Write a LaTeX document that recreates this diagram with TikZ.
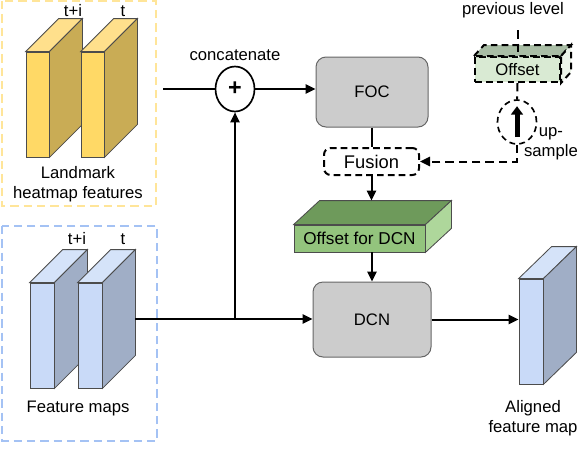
\documentclass[tikz,border=0pt]{standalone}
\usepackage{fontspec}
\setmainfont{Liberation Sans}
\usetikzlibrary{arrows.meta,shapes.geometric,positioning}

\newcommand{\px}{0.6pt}
\definecolor{hmfront}{HTML}{FFD966}
\definecolor{hmtop}{HTML}{FFE08C}
\definecolor{hmside}{HTML}{C9AC55}
\definecolor{hmline}{HTML}{FFE599}
\definecolor{fmfront}{HTML}{C9DAF8}
\definecolor{fmtop}{HTML}{D5E3F9}
\definecolor{fmside}{HTML}{A0AEC6}
\definecolor{fmline}{HTML}{A4C2F4}
\definecolor{offfront}{HTML}{93C47D}
\definecolor{offtop}{HTML}{6E9A5B}
\definecolor{offside}{HTML}{AED79B}
\definecolor{pofffront}{HTML}{D9EAD3}
\definecolor{pofftop}{HTML}{A9BDA5}
\definecolor{poffside}{HTML}{ECF4E9}
\definecolor{procgray}{HTML}{CCCCCC}

% top and side face of a slab whose front face is node #2
\newcommand{\slabfaces}[6][]{%
  \filldraw[face,#1,fill=#3] (#2.north west) -- ([shift={(#5,#6)}]#2.north west)
    -- ([shift={(#5,#6)}]#2.north east) -- (#2.north east) -- cycle;
  \filldraw[face,#1,fill=#4] (#2.north east) -- ([shift={(#5,#6)}]#2.north east)
    -- ([shift={(#5,#6)}]#2.south east) -- (#2.south east) -- cycle;}

\tikzset{
  face/.style={draw=black!70, line width=0.5pt},
  front/.style={face, inner sep=0pt, minimum width=24*\px, minimum height=105*\px},
  procbox/.style={draw=black!60, fill=procgray, line width=0.6pt, rounded corners=6pt},
  groupbox/.style={line width=1.5pt, dash pattern=on 5pt off 3pt},
  plain/.style={line width=1.2pt},
  conn/.style={line width=1.2pt, -{Triangle[length=6pt,width=5.5pt]}},
  dashconn/.style={line width=1.2pt, dash pattern=on 5pt off 3pt},
}

\begin{document}
\begin{tikzpicture}[x=\px, y=-\px]
  \useasboundingbox (0,0) rectangle (581,448);

  \draw[groupbox, draw=hmline] (2,1) rectangle (156,206);
  \node[front, fill=hmfront, minimum width=23*\px] (hm1) at (37.5,104.5) {};
  \slabfaces{hm1}{hmtop}{hmside}{33}{-33}
  \node[front, fill=hmfront, minimum width=23*\px] (hm2) at (92.5,104.5) {};
  \slabfaces{hm2}{hmtop}{hmside}{33}{-33}
  \node (hm1lab) at (73,11) {t+i};
  \node (hm2lab) at (123,11) {t};
  \node[align=center] (hmlab) at (78,184) {Landmark\\heatmap features};

  \draw[groupbox, draw=fmline] (2,226) rectangle (157,441);
  \node[front, fill=fmfront] (fm1) at (42,335.5) {};
  \slabfaces{fm1}{fmtop}{fmside}{33}{-33}
  \node[front, fill=fmfront] (fm2) at (90,335.5) {};
  \slabfaces{fm2}{fmtop}{fmside}{33}{-33}
  \node (fm1lab) at (77,239) {t+i};
  \node (fm2lab) at (123,239) {t};
  \node (fmlab) at (78,408) {Feature maps};

  \node[ellipse, draw, line width=1pt, minimum width=39*\px, minimum height=45*\px, inner sep=0pt] (cat) at (235,89)
    {\fontsize{14}{14}\selectfont\textbf{+}};
  \node (catlab) at (235,55) {concatenate};
  \node[procbox, minimum width=112*\px, minimum height=70*\px] (foc) at (372,92) {FOC};
  \node[draw, line width=1.2pt, dash pattern=on 4pt off 2.5pt, rounded corners=4pt,
    minimum width=95*\px, minimum height=27*\px, font=\fontsize{11}{13}\selectfont] (fusion) at (371.5,161.5) {Fusion};

  \node[face, fill=offfront, inner sep=0pt, minimum width=131*\px, minimum height=27*\px,
    font=\fontsize{10.3}{12}\selectfont] (offdcn) at (359.5,238.5) {Offset for DCN};
  \slabfaces{offdcn}{offtop}{offside}{26}{-24}
  \coordinate (offtop) at ([shift={(26,-24)}]offdcn.north west);

  \node[procbox, minimum width=118*\px, minimum height=75*\px] (dcn) at (372,319.5) {DCN};
  \node[front, fill=fmfront] (al) at (531,331.5) {};
  \slabfaces{al}{fmtop}{fmside}{33}{-32}
  \node[align=center] (allab) at (533,418) {Aligned\\feature map};

  \node (prev) at (513,10) {previous level};
  \node[face, draw=black, line width=1.2pt, dash pattern=on 4pt off 2.5pt, fill=pofffront, inner sep=0pt,
    minimum width=85*\px, minimum height=25*\px] (poff) at (517.5,69.5) {Offset};
  \slabfaces[draw=black, line width=1.2pt, dash pattern=on 4pt off 2.5pt]{poff}{pofftop}{poffside}{10}{-11}
  \node[ellipse, draw, line width=1pt, dash pattern=on 3.5pt off 2.5pt, minimum width=39*\px, minimum height=44*\px] (up) at (517,122) {};
  \node[align=center, inner sep=0pt] (uplab) at (551,144) {up-\\sample};

  \coordinate (hmout) at (163,89);
  \coordinate (fmout) at (135,319);
  \coordinate (jn) at (cat |- fmout);
  \draw[plain] (hmout) -- (cat.west);
  \draw[conn] (cat.east) -- (cat.east -| foc.west);
  \draw[conn] (fmout) -- (fmout -| dcn.west);
  \draw[conn] (jn) -- (cat.south);
  \draw[plain] (foc.south) -- (foc.south |- fusion.north);
  \draw[conn] (fusion.south) -- (fusion.south |- offtop);
  \draw[conn] (dcn.north |- offdcn.south) -- (dcn.north);
  \draw[conn] (dcn.east) -- (dcn.east -| al.west);
  \draw[dashconn, shorten <=4pt] (poff.north |- prev.south) -- (poff.north);
  \draw[dashconn] (poff.south) -- (up.north);
  \draw[dashconn, -{Triangle[length=6pt,width=5.5pt]}] (up.south) |- (fusion.east);
  \draw[line width=3pt, -{Triangle[length=5pt,width=7pt]}] ([yshift=-9pt]up.center) -- ([yshift=9.5pt]up.center);
\end{tikzpicture}
\end{document}
